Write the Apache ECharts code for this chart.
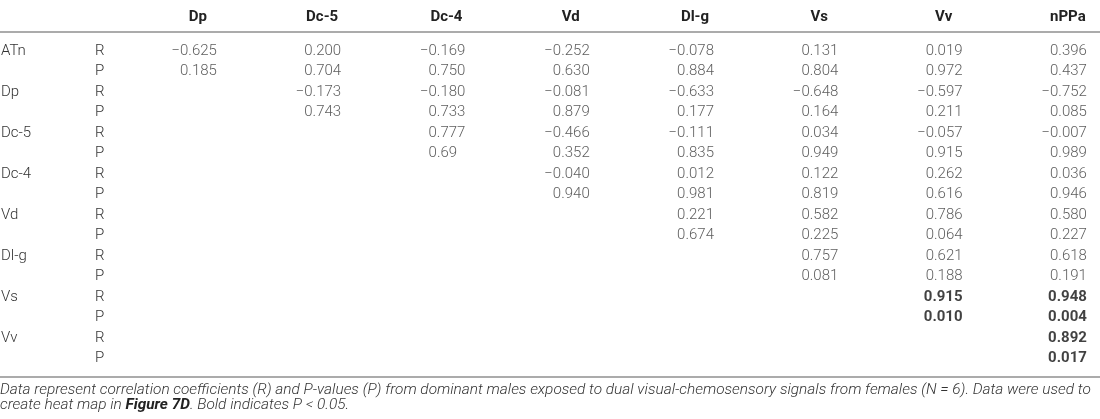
<!DOCTYPE html>
<html>
<head>
<meta charset="utf-8">
<script src="https://cdn.jsdelivr.net/npm/echarts@6/dist/echarts.min.js"></script>
<style>html,body{margin:0;padding:0;background:#fff}#c{width:1100px;height:419px}</style>
</head>
<body>
<div id="c"></div>
<script>
// Column variables (header) and row variables
const colVars = ['Dp', 'Dc-5', 'Dc-4', 'Vd', 'Dl-g', 'Vs', 'Vv', 'nPPa'];
const rowVars = ['ATn', 'Dp', 'Dc-5', 'Dc-4', 'Vd', 'Dl-g', 'Vs', 'Vv'];
const statTypes = ['R', 'P'];
// Correlation coefficients (R) and P-values (P); each list starts at column index startCol[i]
const startCol = [0, 1, 2, 3, 4, 5, 6, 7];
const rValues = [
  ['−0.625', '0.200', '−0.169', '−0.252', '−0.078', '0.131', '0.019', '0.396'],
  ['−0.173', '−0.180', '−0.081', '−0.633', '−0.648', '−0.597', '−0.752'],
  ['0.777', '−0.466', '−0.111', '0.034', '−0.057', '−0.007'],
  ['−0.040', '0.012', '0.122', '0.262', '0.036'],
  ['0.221', '0.582', '0.786', '0.580'],
  ['0.757', '0.621', '0.618'],
  ['0.915', '0.948'],
  ['0.892']
];
const pValues = [
  ['0.185', '0.704', '0.750', '0.630', '0.884', '0.804', '0.972', '0.437'],
  ['0.743', '0.733', '0.879', '0.177', '0.164', '0.211', '0.085'],
  ['0.69', '0.352', '0.835', '0.949', '0.915', '0.989'],
  ['0.940', '0.981', '0.819', '0.616', '0.946'],
  ['0.674', '0.225', '0.064', '0.227'],
  ['0.081', '0.188', '0.191'],
  ['0.010', '0.004'],
  ['0.017']
];
// significance threshold for bold
const alpha = 0.05;

const rowLabels = [];
rowVars.forEach(v => statTypes.forEach(s => rowLabels.push(v + '|' + s)));

const normalLabel = { fontWeight: 300, color: '#333' };
const boldLabel = { fontWeight: 'bold', color: '#111' };
const cells = [];
rowVars.forEach((v, i) => {
  rValues[i].forEach((txt, k) => {
    const col = startCol[i] + k;
    const ptxt = pValues[i][k];
    const sig = parseFloat(ptxt) < alpha;
    cells.push({ value: [col, 2 * i, txt], label: Object.assign({}, sig ? boldLabel : normalLabel) });
    const item = { value: [col, 2 * i + 1, ptxt], label: Object.assign({}, sig ? boldLabel : normalLabel) };
    if (ptxt.split('.')[1].length < 3) item.label.offset = [53.7, 0];
    cells.push(item);
  });
});

const FONT = 'Roboto, "Liberation Sans", sans-serif';
const FS = 15;
const chart = echarts.init(document.getElementById('c'), null, { renderer: 'canvas' });
chart.setOption({
  animation: false,
  backgroundColor: '#fff',
  textStyle: { fontFamily: FONT },
  grid: { left: 92.7, right: 13, top: 40.75, height: 328, containLabel: false, outerBoundsMode: 'none' },
  xAxis: {
    type: 'category', position: 'top', data: colVars,
    axisLine: { show: false }, axisTick: { show: false }, splitLine: { show: false },
    axisLabel: { fontFamily: FONT, fontSize: FS, fontWeight: 'bold', color: '#222', margin: 16, padding: [0, 0, 0, 86], interval: 0 }
  },
  yAxis: {
    type: 'category', inverse: true, data: rowLabels,
    axisLine: { show: false }, axisTick: { show: false }, splitLine: { show: false },
    axisLabel: {
      align: 'left', margin: 91.7, interval: 0,
      formatter: (val) => {
        const [v, s] = val.split('|');
        return '{v|' + (s === 'R' ? v : '') + '}{s|' + s + '}';
      },
      rich: {
        v: { width: 94, align: 'left', fontFamily: FONT, fontSize: FS, fontWeight: 300, color: '#333' },
        s: { fontFamily: FONT, fontSize: FS, fontWeight: 300, color: '#333' }
      }
    }
  },
  series: [{
    type: 'scatter', symbolSize: 0, data: cells, silent: true,
    label: {
      show: true, position: 'inside', align: 'right', verticalAlign: 'middle', offset: [62, 0],
      fontFamily: FONT, fontSize: FS, color: '#333',
      formatter: (p) => p.value[2]
    }
  }],
  title: {
    left: 0, top: 382, padding: 0,
    text: '{i|Data represent correlation coefficients (R) and P-values (P) from dominant males exposed to dual visual-chemosensory signals from females (N = 6). Data were used to}\n{i|create heat map in }{b|Figure 7D}{i|. Bold indicates P < 0.05.}',
    textStyle: {
      rich: {
        i: { fontFamily: FONT, fontStyle: 'italic', fontWeight: 300, fontSize: 15.4, color: '#333', lineHeight: 15.5 },
        b: { fontFamily: FONT, fontStyle: 'italic', fontWeight: 'bold', fontSize: 15.4, color: '#222', lineHeight: 15.5 }
      }
    }
  },
  graphic: {
    elements: [
      { type: 'rect', z: 100, shape: { x: 0, y: 31.25, width: 1100, height: 1.5 }, style: { fill: '#8f8f8f' } },
      { type: 'rect', z: 100, shape: { x: 0, y: 376.25, width: 1100, height: 1.5 }, style: { fill: '#8f8f8f' } }
    ]
  }
});
</script>
</body>
</html>
